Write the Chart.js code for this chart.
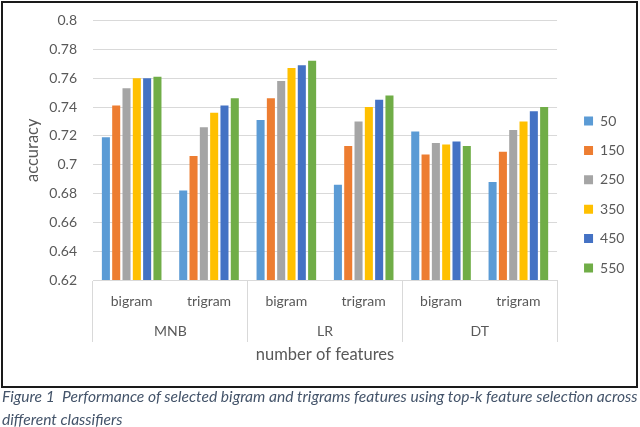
<!DOCTYPE html>
<html>
<head>
<meta charset="utf-8">
<script src="https://cdn.jsdelivr.net/npm/chart.js@4.4.1/dist/chart.umd.min.js"></script>
<style>
  body { margin: 0; background: #fff; font-family: Lato, sans-serif; }
  #frame { position: absolute; left: 1px; top: 1px; width: 633px; height: 383px; border: 2px solid #1a1a1a; }
  #caption { position: absolute; left: 2px; top: 385px; width: 640px; font: italic 15.6px/23px Lato, sans-serif; color: #44546A; white-space: nowrap; }
</style>
</head>
<body>
<div id="frame"><canvas id="chart" width="633" height="383"></canvas></div>
<div id="caption">Figure 1&nbsp; Performance of selected bigram and trigrams features using top-k feature selection across<br>different classifiers</div>
<script>
// categories
const ngrams = ['bigram', 'trigram', 'bigram', 'trigram', 'bigram', 'trigram'];
const classifiers = ['MNB', 'LR', 'DT'];
const featureCounts = ['50', '150', '250', '350', '450', '550'];

// accuracy per number of features (MNB bi, MNB tri, LR bi, LR tri, DT bi, DT tri)
const acc50  = [0.719, 0.682, 0.731, 0.686, 0.723, 0.688];
const acc150 = [0.741, 0.706, 0.746, 0.713, 0.707, 0.709];
const acc250 = [0.753, 0.726, 0.758, 0.730, 0.715, 0.724];
const acc350 = [0.760, 0.736, 0.767, 0.740, 0.714, 0.730];
const acc450 = [0.760, 0.741, 0.769, 0.745, 0.716, 0.737];
const acc550 = [0.761, 0.746, 0.772, 0.748, 0.713, 0.740];

const colors = ['#5B9BD5', '#ED7D31', '#A5A5A5', '#FFC000', '#4472C4', '#70AD47'];
const seriesValues = [acc50, acc150, acc250, acc350, acc450, acc550];

const gray = '#595959';
const lineGray = '#d9d9d9';

const ctx = document.getElementById('chart').getContext('2d');
new Chart(ctx, {
    type: 'bar',
    data: {
        labels: ngrams,
        datasets: featureCounts.map((name, i) => ({
            label: name,
            data: seriesValues[i],
            backgroundColor: colors[i],
            categoryPercentage: 0.8,
            barPercentage: 0.78
        }))
    },
    options: {
        responsive: false,
        animation: false,
        layout: { padding: { left: 0, right: 1.6, top: 0, bottom: 0 } },
        plugins: {
            legend: {
                position: 'right',
                labels: {
                    boxWidth: 9,
                    boxHeight: 9,
                    padding: 15.4,
                    color: gray,
                    font: { family: 'Lato', size: 14 }
                }
            },
            tooltip: { enabled: false }
        },
        scales: {
            x: {
                weight: 0,
                grid: {
                    display: true,
                    drawOnChartArea: false,
                    tickLength: 62,
                    // only the lines between classifier groups
                    color: c => (c.index === undefined || c.index % 2 === 0) ? lineGray : 'rgba(0,0,0,0)'
                },
                border: { color: lineGray },
                ticks: { color: gray, padding: -48.7, font: { family: 'Lato', size: 14 } },
                afterFit: s => { s.height = 33; }
            },
            x2: {
                type: 'category',
                position: 'bottom',
                weight: 1,
                labels: classifiers,
                grid: { display: false, drawTicks: false },
                border: { display: false },
                ticks: { color: gray, padding: 9.6, font: { family: 'Lato', size: 14 } },
                title: {
                    display: true,
                    text: 'number of features',
                    color: gray,
                    font: { family: 'Lato', size: 16.5 },
                    padding: { top: 0, bottom: 21.4 }
                },
                afterFit: s => { s.height = 73; }
            },
            y: {
                min: 0.62,
                max: 0.8,
                ticks: {
                    stepSize: 0.02,
                    color: gray,
                    padding: 16,
                    font: { family: 'Lato', size: 14 },
                    callback: v => String(Number(v.toFixed(2)))
                },
                grid: { color: lineGray, drawTicks: false },
                border: { display: false },
                title: {
                    display: true,
                    text: 'accuracy',
                    color: gray,
                    font: { family: 'Lato', size: 16.5 },
                    padding: { top: 20.1, bottom: 0 }
                },
                afterFit: s => {
                    s.width = 90;
                    s.paddingTop = 17.5;
                    s.paddingBottom = 0;
                }
            },
            // empty spacer between plot area and legend
            gap: {
                type: 'linear',
                position: 'right',
                display: true,
                ticks: { display: false },
                grid: { display: false, drawTicks: false },
                border: { display: false },
                afterFit: s => { s.width = 11.6; }
            }
        }
    }
});
</script>
</body>
</html>
